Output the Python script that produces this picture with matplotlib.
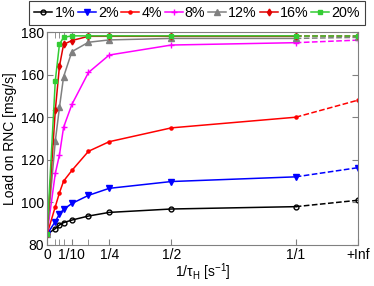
import numpy as np
import matplotlib
matplotlib.use("Agg")
import matplotlib.pyplot as plt

plt.rcParams['font.family'] = ['Liberation Sans', 'DejaVu Sans']
plt.rcParams['mathtext.fontset'] = 'custom'
plt.rcParams['mathtext.rm'] = 'Liberation Sans'
plt.rcParams['mathtext.it'] = 'Liberation Sans'

# x positions: 1/tau_H ; "+Inf" placed at 1.25
x_vals = [0, 1/30, 1/20, 1/15, 1/10, 1/6, 1/4, 1/2, 1]
x_inf = 1.25
labels = ['1%', '2%', '4%', '8%', '12%', '16%', '20%']

s1 = [85, 87.7, 89.4, 90.5, 91.7, 93.6, 95.3, 96.9, 98.0]
s2 = [85, 91.0, 94.5, 96.7, 99.5, 103.3, 106.6, 109.8, 112.0]
s4 = [85, 98.0, 104.5, 110.0, 115.0, 124.0, 128.5, 135.0, 140.0]
s8 = [85, 113.6, 122.3, 135.3, 146.0, 161.0, 169.2, 173.9, 175.0]
s12 = [85, 128.8, 144.6, 159.0, 170.8, 175.2, 176.3, 177.0, 177.0]
s16 = [85, 143.2, 164.0, 174.2, 176.0, 178.0, 178.0, 178.0, 178.0]
s20 = [85, 157.2, 174.3, 177.5, 178.2, 178.2, 178.2, 178.2, 178.2]
inf_vals = [101.0, 116.3, 148.0, 176.2, 177.5, 178.0, 178.2]

series = [s1, s2, s4, s8, s12, s16, s20]
colors = ['black', '#0000ff', '#ff0000', '#ff00ff', '#808080', '#e00000', '#33cc33']
markers = ['o', 'v', '.', '+', '^', 'd', 's']
msizes = [3.5, 4, 4.5, 4.5, 4, 3.5, 3.5]

fig = plt.figure(figsize=(3.74, 2.86), dpi=100)
ax = fig.add_axes([0.1257, 0.1434, 0.8313, 0.7446])

handles = []
for s, iv, c, m, ms, lab in zip(series, inf_vals, colors, markers, msizes, labels):
    mfc = 'none' if m == 'o' else c
    h, = ax.plot(x_vals, s, color=c, marker=m, ms=ms, lw=1.1, mfc=mfc, mew=1.0, label=lab)
    ax.plot([x_vals[-1], x_inf], [s[-1], iv], color=c, ls='--', lw=1.1,
            marker=m, ms=ms, mfc=mfc, mew=1.0, markevery=[1])
    handles.append(h)

ax.set_xlim(0, 1.25)
ax.set_ylim(80, 180)
major = [0, 0.1, 0.25, 0.5, 1.0, 1.25]
ax.set_xticks(major)
ax.set_xticklabels(['0', '1/10', '1/4', '1/2', '1/1', '+Inf'])
ax.set_xticks([1/30, 1/20, 1/15, 1/6], minor=True)
ax.set_yticks([80, 100, 120, 140, 160, 180])
ax.tick_params(axis='both', which='both', direction='in', top=True, right=True,
               labelsize=10, colors='#808080', labelcolor='black', pad=2)
ax.tick_params(which='major', length=4)
ax.tick_params(which='minor', length=4)
for sp in ax.spines.values():
    sp.set_color('#808080')
    sp.set_linewidth(0.8)

ax.set_xlabel('1/τ$_\\mathrm{H}$ [s$^{-1}$]', fontsize=10, labelpad=0)
ax.set_ylabel('Load on RNC [msg/s]', fontsize=10, labelpad=3)

leg = fig.legend(handles=handles, loc='center', bbox_to_anchor=(0.527, 0.955), ncol=7,
                 fontsize=10.3, handlelength=1.25, handletextpad=0.15, columnspacing=0.2,
                 borderpad=0.35, fancybox=False, framealpha=1, borderaxespad=0)
leg.get_frame().set_edgecolor('#404040')
leg.get_frame().set_linewidth(0.8)

fig.savefig('out.png', dpi=100)
